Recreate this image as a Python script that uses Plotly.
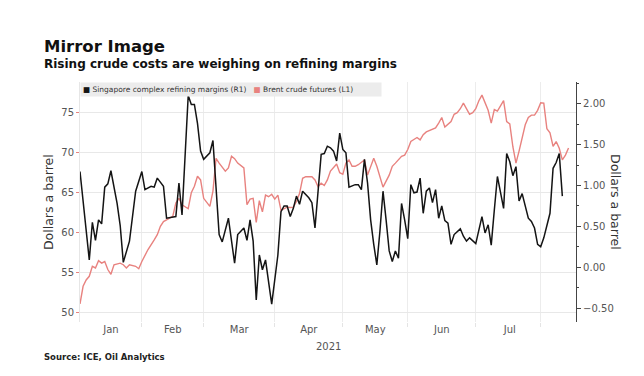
import plotly.graph_objects as go

# ---------------- data ----------------
margin_dates = [
    "2021-01-04", "2021-01-07", "2021-01-08", "2021-01-11", "2021-01-12", "2021-01-13", "2021-01-14",
    "2021-01-15", "2021-01-18", "2021-01-20", "2021-01-21", "2021-01-22", "2021-01-26", "2021-01-28",
    "2021-02-01", "2021-02-02", "2021-02-04", "2021-02-05", "2021-02-08", "2021-02-09", "2021-02-10",
    "2021-02-11", "2021-02-16", "2021-02-17", "2021-02-18", "2021-02-22", "2021-02-23", "2021-02-24",
    "2021-02-25", "2021-02-26", "2021-03-01", "2021-03-03", "2021-03-04", "2021-03-08", "2021-03-09",
    "2021-03-11", "2021-03-12", "2021-03-15", "2021-03-16", "2021-03-18", "2021-03-19", "2021-03-22",
    "2021-03-23", "2021-03-24", "2021-03-25", "2021-03-26", "2021-03-29", "2021-03-31", "2021-04-02",
    "2021-04-05", "2021-04-06", "2021-04-07", "2021-04-08", "2021-04-09", "2021-04-12", "2021-04-13",
    "2021-04-14", "2021-04-16", "2021-04-19", "2021-04-20", "2021-04-22", "2021-04-23", "2021-04-26",
    "2021-04-27", "2021-04-28", "2021-04-29", "2021-04-30", "2021-05-03", "2021-05-04", "2021-05-05",
    "2021-05-07", "2021-05-10", "2021-05-11", "2021-05-12", "2021-05-13", "2021-05-14", "2021-05-17",
    "2021-05-18", "2021-05-19", "2021-05-20", "2021-05-21", "2021-05-24", "2021-05-25", "2021-05-26",
    "2021-05-27", "2021-05-28", "2021-05-31", "2021-06-01", "2021-06-02", "2021-06-03", "2021-06-04",
    "2021-06-07", "2021-06-08", "2021-06-09", "2021-06-10", "2021-06-11", "2021-06-14", "2021-06-15",
    "2021-06-16", "2021-06-17", "2021-06-18", "2021-06-21", "2021-06-22", "2021-06-24", "2021-06-25",
    "2021-06-28", "2021-06-29", "2021-06-30", "2021-07-01", "2021-07-05", "2021-07-06", "2021-07-07",
    "2021-07-08", "2021-07-09", "2021-07-12", "2021-07-14", "2021-07-15", "2021-07-16", "2021-07-19",
    "2021-07-20", "2021-07-21", "2021-07-22", "2021-07-26", "2021-07-27", "2021-07-28", "2021-07-29",
    "2021-07-30", "2021-08-02", "2021-08-04", "2021-08-05", "2021-08-06", "2021-08-09", "2021-08-10",
]
margin_values = [
    1.17, 0.09, 0.55, 0.33, 0.58, 0.53, 0.98,
    1.02, 1.18, 0.78, 0.51, 0.06, 0.32, 0.93,
    1.17, 0.95, 0.99, 0.98, 1.09, 1.04, 0.99,
    0.60, 0.62, 1.03, 0.64, 2.10, 1.99, 1.99,
    1.76, 1.42, 1.32, 1.40, 1.55, 0.40, 0.31,
    0.60, 0.32, 0.05, 0.40, 0.48, 0.33, 0.58,
    0.32, -0.40, 0.15, -0.03, 0.09, -0.45, 0.15,
    0.68, 0.75, 0.75, 0.62, 0.72, 0.87, 0.77,
    0.93, 0.85, 0.79, 0.48, 1.38, 1.39, 1.48,
    1.46, 1.42, 1.30, 1.64, 1.44, 1.40, 0.98,
    1.01, 1.01, 0.95, 1.32, 1.03, 0.58, 0.28,
    0.03, 0.44, 0.93, 0.58, 0.20, 0.07, 0.20,
    0.11, 0.78, 0.58, 0.35, 1.01, 0.91, 0.92,
    1.09, 0.66, 0.93, 0.97, 0.79, 0.95, 0.60,
    0.75, 0.57, 0.54, 0.28, 0.40, 0.47, 0.38,
    0.32, 0.36, 0.32, 0.29, 0.62, 0.42, 0.52,
    0.27, 0.70, 1.11, 0.72, 1.39, 1.29, 1.12,
    1.23, 0.81, 0.90, 0.60, 0.56, 0.48, 0.28,
    0.25, 0.36, 0.66, 1.21, 1.28, 1.39, 0.87,
]

brent_dates = [
    "2021-01-04", "2021-01-05", "2021-01-06", "2021-01-07", "2021-01-08", "2021-01-11", "2021-01-12",
    "2021-01-13", "2021-01-14", "2021-01-15", "2021-01-18", "2021-01-19", "2021-01-21", "2021-01-22",
    "2021-01-25", "2021-01-26", "2021-01-28", "2021-01-29", "2021-02-01", "2021-02-03", "2021-02-05",
    "2021-02-08", "2021-02-09", "2021-02-10", "2021-02-11", "2021-02-15", "2021-02-16", "2021-02-17",
    "2021-02-18", "2021-02-22", "2021-02-23", "2021-02-24", "2021-02-25", "2021-02-26", "2021-03-01",
    "2021-03-03", "2021-03-04", "2021-03-05", "2021-03-08", "2021-03-10", "2021-03-11", "2021-03-12",
    "2021-03-15", "2021-03-16", "2021-03-18", "2021-03-19", "2021-03-22", "2021-03-23", "2021-03-24",
    "2021-03-25", "2021-03-26", "2021-03-29", "2021-03-30", "2021-03-31", "2021-04-01", "2021-04-02",
    "2021-04-05", "2021-04-06", "2021-04-07", "2021-04-08", "2021-04-09", "2021-04-12", "2021-04-13",
    "2021-04-14", "2021-04-15", "2021-04-19", "2021-04-20", "2021-04-21", "2021-04-22", "2021-04-23",
    "2021-04-26", "2021-04-27", "2021-04-29", "2021-04-30", "2021-05-03", "2021-05-04", "2021-05-05",
    "2021-05-06", "2021-05-07", "2021-05-10", "2021-05-12", "2021-05-13", "2021-05-14", "2021-05-17",
    "2021-05-18", "2021-05-19", "2021-05-20", "2021-05-24", "2021-05-25", "2021-05-26", "2021-05-27",
    "2021-05-28", "2021-05-31", "2021-06-01", "2021-06-02", "2021-06-03", "2021-06-04", "2021-06-07",
    "2021-06-08", "2021-06-09", "2021-06-10", "2021-06-14", "2021-06-15", "2021-06-16", "2021-06-17",
    "2021-06-21", "2021-06-22", "2021-06-23", "2021-06-24", "2021-06-25", "2021-06-29", "2021-06-30",
    "2021-07-01", "2021-07-02", "2021-07-05", "2021-07-07", "2021-07-08", "2021-07-09", "2021-07-12",
    "2021-07-14", "2021-07-15", "2021-07-16", "2021-07-19", "2021-07-20", "2021-07-21", "2021-07-22",
    "2021-07-23", "2021-07-26", "2021-07-27", "2021-07-28", "2021-07-29", "2021-07-30", "2021-08-02",
    "2021-08-03", "2021-08-04", "2021-08-05", "2021-08-06", "2021-08-09", "2021-08-10", "2021-08-11",
    "2021-08-12",
]
brent_values = [
    51.1, 53.3, 54.1, 54.55, 55.8, 55.6, 56.5,
    56.2, 56.4, 55.4, 54.8, 56.0, 56.2, 56.0,
    55.6, 56.0, 55.8, 55.5, 56.4, 57.9, 59.1,
    59.75, 60.8, 61.4, 61.6, 62.05, 63.7, 64.3,
    63.5, 63.0, 65.0, 65.8, 67.05, 66.6, 64.3,
    63.3, 65.2, 69.3, 68.7, 67.7, 68.1, 69.55,
    69.25, 68.7, 68.1, 63.5, 64.2, 64.3, 61.3,
    64.0, 62.6, 64.7, 64.5, 64.8, 64.2, 64.7,
    62.8, 63.05, 63.2, 63.15, 63.2, 63.9, 64.9,
    66.8, 67.0, 67.0, 66.6, 65.75, 66.2, 65.9,
    66.6, 67.7, 68.6, 67.5, 67.3, 68.7, 69.1,
    68.3, 68.3, 68.5, 69.1, 67.2, 68.3, 69.3,
    68.3, 67.05, 65.7, 67.2, 68.3, 68.7, 69.1,
    69.55, 69.7, 70.4, 71.4, 71.6, 71.9, 71.6,
    72.25, 72.6, 72.75, 73.1, 73.7, 74.4, 73.2,
    73.9, 74.8, 75.0, 75.5, 76.2, 74.8, 75.0,
    75.5, 76.5, 77.2, 75.3, 73.7, 75.4, 75.2,
    76.5, 73.9, 73.6, 70.75, 68.7, 70.2, 72.0,
    73.5, 74.4, 74.7, 74.7, 75.3, 76.25, 76.2,
    73.0, 72.5, 70.8, 71.4, 70.55, 69.1, 69.7,
    70.6,
]

month_labels = ["Jan", "Feb", "Mar", "Apr", "May", "Jun", "Jul"]
month_label_dates = ["2021-01-18", "2021-02-15", "2021-03-16 12:00", "2021-04-16",
                     "2021-05-17 12:00", "2021-06-16", "2021-07-16"]
left_ticks = [50, 55, 60, 65, 70, 75]
right_ticks = [-0.5, 0.0, 0.5, 1.0, 1.5, 2.0]

margin_name = "Singapore complex refining margins (R1)"
brent_name = "Brent crude futures (L1)"

RED = "#e8827f"
BLACK = "#141414"
FONT = "DejaVu Sans"
TICK_COLOR = "#555555"

fig = go.Figure()
fig.add_trace(go.Scatter(x=brent_dates, y=brent_values, name=brent_name, mode="lines",
                         line=dict(color=RED, width=1.4), yaxis="y", showlegend=False))
fig.add_trace(go.Scatter(x=margin_dates, y=margin_values, name=margin_name, mode="lines",
                         line=dict(color=BLACK, width=1.5), yaxis="y2", showlegend=False))

fig.update_layout(
    width=644, height=376,
    margin=dict(l=80, r=68, t=82, b=54),
    paper_bgcolor="white", plot_bgcolor="white",
    font=dict(family=FONT, color=TICK_COLOR),
    xaxis=dict(
        type="date",
        range=["2021-01-04", "2021-08-16 10:00"],
        rangebreaks=[dict(bounds=["sat", "mon"])],
        tickvals=month_label_dates, ticktext=month_labels,
        showgrid=False, ticks="",
        minor=dict(dtick="M1", tick0="2021-01-01", showgrid=True, gridcolor="#ececec",
                   gridwidth=1, ticks="outside", ticklen=4, tickcolor="#e4e4e4"),
        tickfont=dict(size=10, color=TICK_COLOR), showline=False, zeroline=False,
    ),
    yaxis=dict(
        range=[48.84, 78.84], tickvals=left_ticks,
        showgrid=True, gridcolor="#e8e8e8", gridwidth=1,
        ticks="outside", ticklen=3, tickcolor=RED,
        tickfont=dict(size=10, color=TICK_COLOR),
        showline=True, linecolor="#e6e6e6", linewidth=1, zeroline=False,
    ),
    yaxis2=dict(
        overlaying="y", side="right", anchor="x",
        range=[-0.669, 2.265], tickvals=right_ticks, tickformat=".2f",
        showgrid=False, zeroline=False,
        showline=True, linecolor="#444444", linewidth=1.2,
        ticks="outside", ticklen=4, tickcolor="#444444",
        minor=dict(dtick=0.25, tick0=0, ticks="outside", ticklen=2, tickcolor="#444444"),
        tickfont=dict(size=10, color=TICK_COLOR),
    ),
)

legend_text = (f"<span style='color:{BLACK}'>■</span> {margin_name}   "
               f"<span style='color:{RED}'>■</span> {brent_name}")

annotations = [
    dict(text="<b>Mirror Image</b>", x=-0.0766, y=1.146, xref="paper", yref="paper",
         xanchor="left", yanchor="middle", showarrow=False,
         font=dict(size=16.5, color="#111111", family=FONT)),
    dict(text="<b>Rising crude costs are weighing on refining margins</b>", x=-0.0766, y=1.075,
         xref="paper", yref="paper", xanchor="left", yanchor="middle", showarrow=False,
         font=dict(size=12, color="#111111", family=FONT)),
    dict(text=legend_text, x=0, y=1.0, xref="paper", yref="paper", xanchor="left", yanchor="top",
         showarrow=False, align="left", bgcolor="#ececec", borderpad=2, width=296,
         font=dict(size=7.5, color="#333333", family=FONT)),
    dict(text="Dollars a barrel", x=-0.0645, y=0.5, xref="paper", yref="paper", textangle=-90,
         xanchor="center", yanchor="middle", showarrow=False,
         font=dict(size=12.5, color="#333333", family=FONT)),
    dict(text="Dollars a barrel", x=1.0806, y=0.5, xref="paper", yref="paper", textangle=90,
         xanchor="center", yanchor="middle", showarrow=False,
         font=dict(size=12.5, color="#333333", family=FONT)),
    dict(text="2021", x=0.5, y=-0.1, xref="paper", yref="paper", xanchor="center", yanchor="middle",
         showarrow=False, font=dict(size=10, color=TICK_COLOR, family=FONT)),
    dict(text="<b>Source: ICE, Oil Analytics</b>", x=-0.0766, y=-0.146, xref="paper", yref="paper",
         xanchor="left", yanchor="middle", showarrow=False,
         font=dict(size=8.5, color="#222222", family=FONT)),
]
fig.update_layout(annotations=annotations)

fig.write_html("out.html", config={"displayModeBar": False},
               post_script="document.body.style.margin='0px';")
